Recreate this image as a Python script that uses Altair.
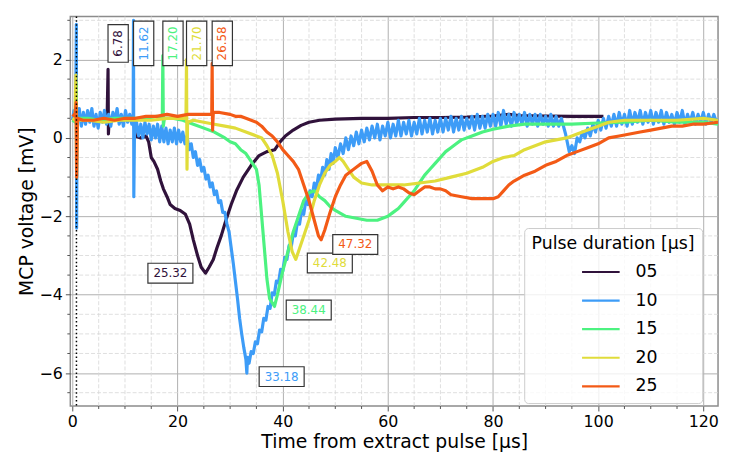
import altair as alt
import pandas as pd

series = ["05", "10", "15", "20", "25"]
colors = ["#30123b", "#3d9cf7", "#4cf280", "#e0dc3a", "#f35a16"]

# (time [us], voltage [mV]) pairs
pts05 = [(0.0, 0.5), (0.5, 0.45), (0.8, 0.55), (1.5, 0.45), (3, 0.5), (5, 0.45), (6.6, 0.5), (6.78, 1.75),
         (6.85, 0.1), (7.0, 0.5), (9, 0.45), (11, 0.5), (11.6, 0.45), (12.0, 0.05), (13, 0.0), (14, 0.05),
         (14.5, -0.1), (15.0, -0.5), (15.5, -0.6), (16.2, -0.8), (16.8, -1.1), (17.3, -1.3), (18.0, -1.5),
         (18.6, -1.7), (19.5, -1.8), (20.5, -1.85), (21.5, -1.95), (22.3, -2.2), (23.0, -2.6),
         (23.8, -3.0), (24.5, -3.3), (25.32, -3.45), (26.0, -3.3), (26.8, -3.1), (27.5, -2.8),
         (28.3, -2.5), (29.2, -2.1), (30.2, -1.7), (31.2, -1.35), (32.5, -1.0), (34, -0.7), (35.5, -0.45),
         (37, -0.35), (38.5, -0.3), (39.5, -0.1), (40.5, 0.05), (42, 0.2), (43.5, 0.32), (45, 0.4),
         (47, 0.45), (50, 0.48), (55, 0.5), (60, 0.5), (65, 0.52), (70, 0.52), (75, 0.53), (80, 0.56),
         (83, 0.6), (85, 0.57), (90, 0.56), (95, 0.55), (101, 0.55)]

pts10 = [(0.0, 0.45), (0.3, 0.7), (0.6, 0.4), (0.75, 2.9), (0.8, -2.3), (0.9, 0.5), (1.3, 0.75),
         (1.7, 0.3), (2.1, 0.65), (2.5, 0.35), (2.9, 0.7), (3.3, 0.4), (3.7, 0.75), (4.1, 0.3), (4.5, 0.6),
         (4.9, 0.25), (5.3, 0.65), (5.7, 0.4), (6.1, 0.7), (6.5, 0.35), (6.9, 0.6), (7.3, 0.3), (7.7, 0.65),
         (8.1, 0.45), (8.5, 0.75), (8.9, 0.35), (9.3, 0.6), (9.7, 0.3), (10.1, 0.7), (10.5, 0.4),
         (10.9, 0.6), (11.3, 0.35), (11.55, 0.55), (11.62, 3.0), (11.68, -1.5), (11.8, 0.1), (12.2, 0.4),
         (12.6, 0.05), (13.0, 0.35), (13.4, 0.0), (13.8, 0.4), (14.2, 0.1), (14.6, 0.35), (15.0, -0.05),
         (15.4, 0.3), (15.8, 0.0), (16.2, 0.35), (16.6, -0.1), (17.0, 0.3), (17.4, -0.1), (17.8, 0.25),
         (18.2, -0.15), (18.6, 0.2), (19.0, -0.1), (19.4, 0.25), (19.8, -0.15), (20.2, 0.2), (20.6, -0.1),
         (21.0, 0.15), (21.4, -0.15), (21.8, 0.05), (22.2, -0.3), (22.6, -0.15), (23.0, -0.5),
         (23.4, -0.35), (23.8, -0.7), (24.2, -0.55), (24.6, -0.85), (25.0, -0.75), (25.4, -1.05),
         (25.8, -0.95), (26.2, -1.25), (26.6, -1.15), (27.0, -1.45), (27.4, -1.35), (27.8, -1.65),
         (28.2, -1.6), (28.6, -1.9), (29.0, -1.9), (29.4, -2.2), (29.8, -2.4), (30.2, -2.8), (30.6, -3.2),
         (31.0, -3.65), (31.4, -4.1), (31.8, -4.6), (32.2, -5.0), (32.6, -5.35), (33.0, -5.65),
         (33.18, -6.0), (33.3, -5.6), (33.6, -5.75), (34.0, -5.45), (34.4, -5.5), (34.8, -5.2),
         (35.2, -5.25), (35.6, -4.9), (36.0, -4.95), (36.4, -4.6), (36.8, -4.65), (37.2, -4.3),
         (37.6, -4.35), (38.0, -3.95), (38.4, -4.0), (38.8, -3.65), (39.2, -3.7), (39.6, -3.35),
         (40.0, -3.4), (40.4, -3.05), (40.8, -3.1), (41.2, -2.75), (41.6, -2.8), (42.0, -2.45),
         (42.4, -2.5), (42.8, -2.15), (43.2, -2.2), (43.6, -1.85), (44.0, -1.95), (44.4, -1.6),
         (44.8, -1.7), (45.2, -1.35), (45.6, -1.5), (46.0, -1.15), (46.4, -1.3), (46.8, -0.95),
         (47.2, -1.1), (47.6, -0.75), (48.0, -0.95), (48.4, -0.55), (48.8, -0.8), (49.2, -0.4),
         (49.6, -0.65), (50.0, -0.25), (50.5, -0.5), (51.0, -0.15), (51.5, -0.4), (52.0, 0.0),
         (52.5, -0.3), (53.0, 0.05), (53.5, -0.2), (54.0, 0.15), (54.5, -0.15), (55.0, 0.2), (55.5, -0.1),
         (56.0, 0.25), (56.5, -0.05), (57.0, 0.3), (57.5, 0.0), (58.0, 0.35), (58.5, -0.05), (59.0, 0.3),
         (59.5, 0.05), (60.0, 0.4), (60.5, 0.0), (61.0, 0.35), (61.5, 0.05), (62.0, 0.45), (62.5, 0.05),
         (63.0, 0.4), (63.5, 0.1), (64.0, 0.45), (64.5, 0.05), (65.0, 0.4), (65.5, 0.1), (66.0, 0.5),
         (66.5, 0.1), (67.0, 0.45), (67.5, 0.15), (68.0, 0.5), (68.5, 0.1), (69.0, 0.45), (69.5, 0.15),
         (70.0, 0.5), (70.5, 0.15), (71.0, 0.5), (71.5, 0.2), (72.0, 0.55), (72.5, 0.15), (73.0, 0.5),
         (73.5, 0.2), (74.0, 0.55), (74.5, 0.2), (75.0, 0.5), (75.5, 0.25), (76.0, 0.55), (76.5, 0.2),
         (77.0, 0.6), (77.5, 0.25), (78.0, 0.55), (78.5, 0.25), (79.0, 0.6), (79.5, 0.3), (80.0, 0.6),
         (80.5, 0.3), (81.0, 0.65), (81.5, 0.3), (82.0, 0.7), (82.5, 0.35), (83.0, 0.6), (83.5, 0.3),
         (84.0, 0.65), (84.5, 0.35), (85.0, 0.6), (85.5, 0.35), (86.0, 0.65), (86.5, 0.3), (87.0, 0.6),
         (87.5, 0.35), (88.0, 0.6), (88.5, 0.3), (89.0, 0.6), (89.5, 0.35), (90.0, 0.55), (90.5, 0.3),
         (91.0, 0.6), (91.5, 0.3), (92.0, 0.55), (92.5, 0.3), (93.0, 0.5), (93.8, 0.1), (94.5, -0.35),
         (95.0, -0.2), (95.5, -0.4), (96.0, 0.0), (96.5, -0.1), (97.0, 0.15), (97.5, 0.0), (98.0, 0.25),
         (98.5, 0.05), (99.0, 0.35), (99.5, 0.15), (100.0, 0.45), (100.5, 0.2), (101.0, 0.5), (101.5, 0.25),
         (102.0, 0.55), (102.5, 0.3), (103.0, 0.6), (103.5, 0.3), (104.0, 0.65), (104.5, 0.35),
         (105.0, 0.6), (105.5, 0.3), (106.0, 0.7), (106.5, 0.35), (107.0, 0.65), (107.5, 0.4), (108.0, 0.7),
         (108.5, 0.35), (109.0, 0.65), (109.5, 0.4), (110.0, 0.7), (110.5, 0.35), (111.0, 0.65),
         (111.5, 0.4), (112.0, 0.7), (112.5, 0.35), (113.0, 0.65), (113.5, 0.4), (114.0, 0.6),
         (114.5, 0.35), (115.0, 0.65), (115.5, 0.4), (116.0, 0.7), (116.5, 0.35), (117.0, 0.6),
         (117.5, 0.4), (118.0, 0.65), (118.5, 0.35), (119.0, 0.6), (119.5, 0.4), (120.0, 0.65),
         (120.5, 0.35), (121.0, 0.6), (121.5, 0.4), (122.0, 0.6), (122.5, 0.4), (122.8, 0.5)]

pts15 = [(0.0, 0.45), (0.6, 0.4), (0.7, 1.4), (0.8, 0.3), (1.0, 0.5), (3, 0.5), (5, 0.45), (8, 0.5),
         (11, 0.5), (14, 0.5), (16, 0.55), (17.1, 0.5), (17.2, 2.1), (17.3, 0.3), (17.5, 0.5), (19, 0.5),
         (21, 0.45), (23, 0.35), (25, 0.25), (27, 0.15), (29, 0.0), (30, -0.1), (31, -0.15), (32, -0.3),
         (33, -0.4), (34, -0.6), (35, -0.8), (35.5, -1.2), (36, -2.0), (36.5, -2.8), (37, -3.6),
         (37.5, -4.1), (38.44, -4.3), (39, -4.0), (40, -3.4), (41, -2.9), (42, -2.4), (43, -2.0),
         (44, -1.6), (45, -1.4), (46, -1.35), (47, -1.5), (48, -1.6), (49, -1.75), (50, -1.85), (52, -2.0),
         (54, -2.05), (56, -2.1), (58, -2.1), (59, -2.05), (60, -2.0), (61, -1.9), (62, -1.8), (63, -1.65),
         (64, -1.5), (65, -1.35), (66, -1.15), (67, -0.95), (68, -0.8), (69, -0.65), (70, -0.5),
         (71, -0.35), (72, -0.25), (73, -0.15), (74, -0.05), (76, 0.05), (78, 0.15), (80, 0.22),
         (83, 0.3), (86, 0.35), (90, 0.35), (95, 0.35), (100, 0.38), (105, 0.4), (110, 0.45), (115, 0.4),
         (120, 0.4), (122.8, 0.35)]

pts20 = [(0.0, 0.5), (0.5, 0.45), (0.65, 1.6), (0.8, -1.0), (0.95, 0.45), (3, 0.45), (6, 0.4), (9, 0.45),
         (12, 0.45), (15, 0.45), (18, 0.5), (21.6, 0.5), (21.7, 2.0), (21.8, -0.8), (21.9, 0.4), (23, 0.45),
         (25, 0.4), (27, 0.35), (29, 0.3), (31, 0.25), (33, 0.15), (35, 0.05), (36, 0.0), (37, -0.2),
         (38, -0.45), (39, -0.9), (40, -1.6), (41, -2.4), (41.8, -2.9), (42.48, -3.1), (43, -2.9),
         (44, -2.5), (45, -2.1), (46, -1.6), (47, -1.2), (48, -0.9), (49, -0.7), (50, -0.6), (50.8, -0.5),
         (51.5, -0.6), (52.5, -0.8), (53.5, -1.0), (55, -1.15), (57, -1.2), (60, -1.2), (63, -1.2),
         (66, -1.15), (69, -1.1), (72, -1.0), (75, -0.9), (78, -0.75), (80, -0.6), (82, -0.5), (84, -0.45),
         (86, -0.3), (88, -0.2), (90, -0.1), (92, -0.05), (94, 0.0), (96, 0.1), (98, 0.2), (100, 0.3),
         (102, 0.4), (105, 0.45), (110, 0.45), (115, 0.45), (120, 0.5), (122.8, 0.45)]

pts25 = [(0.0, 0.6), (0.5, 0.55), (0.7, 0.9), (0.8, -1.0), (0.95, 0.5), (2, 0.45), (4, 0.45), (6, 0.5),
         (8, 0.45), (10, 0.5), (12, 0.5), (14, 0.55), (16, 0.55), (18, 0.6), (20, 0.55), (22, 0.6),
         (24, 0.6), (26.5, 0.6), (26.58, 1.9), (26.66, 0.2), (26.8, 0.65), (28, 0.65), (30, 0.6),
         (31, 0.55), (32, 0.55), (33, 0.5), (34, 0.45), (35, 0.4), (36, 0.3), (37, 0.15), (38, 0.05),
         (39, -0.1), (40, -0.3), (41, -0.45), (42, -0.6), (43, -0.8), (44, -1.2), (45, -1.6), (46, -2.1),
         (46.8, -2.5), (47.32, -2.6), (48, -2.35), (49, -1.9), (50, -1.5), (51, -1.2), (52, -0.95),
         (53, -0.85), (54, -0.75), (55, -0.65), (56, -0.6), (57, -0.85), (58, -1.2), (59, -1.35),
         (60, -1.25), (61, -1.3), (62, -1.25), (63, -1.3), (64, -1.4), (65, -1.45), (66, -1.35),
         (67, -1.25), (68, -1.25), (69, -1.3), (70, -1.3), (71, -1.35), (72, -1.45), (74, -1.5),
         (76, -1.55), (78, -1.55), (80, -1.55), (81, -1.5), (82, -1.35), (83, -1.2), (84, -1.1),
         (86, -0.95), (88, -0.85), (90, -0.7), (92, -0.6), (94, -0.45), (96, -0.35), (98, -0.25),
         (100, -0.15), (102, 0.0), (104, 0.05), (106, 0.1), (108, 0.15), (110, 0.2), (112, 0.25),
         (114, 0.3), (116, 0.3), (118, 0.35), (120, 0.35), (122.8, 0.4)]

trigger_x = [0.77]

x_major = [0, 20, 40, 60, 80, 100, 120]
x_minor = [5, 10, 15, 25, 30, 35, 45, 50, 55, 65, 70, 75, 85, 90, 95, 105, 110, 115]
y_major = [-6, -4, -2, 0, 2]
y_minor = [-6.5, -5.5, -5.0, -4.5, -3.5, -3.0, -2.5, -1.5, -1.0, -0.5, 0.5, 1.0, 1.5, 2.5, 3.0]

ann_text = ["6.78", "11.62", "17.20", "21.70", "26.58", "25.32", "33.18", "38.44", "42.48", "47.32"]
ann_series = ["05", "10", "15", "20", "25", "05", "10", "15", "20", "25"]
ann_x = [8.70, 13.55, 19.13, 23.63, 28.51, 18.64, 39.8, 44.95, 48.96, 53.8]
ann_y = [2.41, 2.41, 2.41, 2.41, 2.41, -3.45, -6.09, -4.39, -3.19, -2.72]

frames = []
for s, pts in zip(series, [pts05, pts10, pts15, pts20, pts25]):
    frames.append(pd.DataFrame({"t": [p[0] for p in pts], "v": [p[1] for p in pts], "series": s}))
lines_df = pd.concat(frames, ignore_index=True)

ann_df = pd.DataFrame({"text": ann_text, "series": ann_series, "x": ann_x, "y": ann_y})
ann_df["vertical"] = [True] * 5 + [False] * 5
box_h = "M-1,-0.44H1V0.44H-1Z"
box_v5 = "M-0.45,-0.99H0.45V0.99H-0.45Z"
box_v4 = "M-0.45,-0.835H0.45V0.835H-0.45Z"
ann_df["shape"] = [
    (box_v5 if len(tx) == 5 else box_v4) if vert else box_h
    for tx, vert in zip(ann_df["text"], ann_df["vertical"])
]
trig_df = pd.DataFrame({"x": trigger_x})
xminor_df = pd.DataFrame({"x": x_minor})
yminor_df = pd.DataFrame({"y": y_minor})

FONT = "DejaVu Sans"
xscale = alt.Scale(domain=[-0.4, 122.8], nice=False, zero=False)
yscale = alt.Scale(domain=[-6.84, 3.1], nice=False, zero=False)
cscale = alt.Scale(domain=series, range=colors)


def axis(title, values):
    return alt.Axis(
        title=title,
        values=values,
        format="d",
        labelOverlap=False,
        labelFlush=False,
        grid=True,
        gridColor="#b0b0b0",
        gridWidth=1.0,
        tickSize=5,
        tickColor="#555555",
        tickWidth=1.0,
        domain=False,
        labelFont=FONT,
        labelFontSize=16,
        labelColor="black",
        labelPadding=3,
        titleFont=FONT,
        titleFontSize=19,
        titleFontWeight="normal",
        titleColor="black",
        titlePadding=3,
    )


x_axis = axis("Time from extract pulse [µs]", x_major)
y_axis = axis("MCP voltage [mV]", y_major)

legend = alt.Legend(
    title="Pulse duration [µs]",
    orient="none",
    legendX=459,
    legendY=214,
    direction="vertical",
    fillColor="rgba(255,255,255,0.8)",
    strokeColor="#cccccc",
    cornerRadius=4,
    padding=7.5,
    titleFont=FONT,
    titleFontSize=17.5,
    titleFontWeight="normal",
    titleColor="black",
    titlePadding=8.5,
    labelFont=FONT,
    labelFontSize=17.5,
    labelColor="black",
    symbolType="M-2,0H2",
    symbolSize=361,
    symbolStrokeWidth=2.2,
    symbolOffset=59,
    labelOffset=24,
    rowPadding=8.9,
)

minor_grid_style = dict(color="#d6d6d6", strokeDash=[4, 2], strokeWidth=0.8)
xgrid = alt.Chart(xminor_df).mark_rule(**minor_grid_style).encode(x=alt.X("x:Q", scale=xscale, axis=x_axis))
ygrid = alt.Chart(yminor_df).mark_rule(**minor_grid_style).encode(y=alt.Y("y:Q", scale=yscale, axis=y_axis))
xmtick = alt.Chart(xminor_df).mark_rule(color="#555555", strokeWidth=1.0, clip=False).encode(
    x=alt.X("x:Q", scale=xscale, axis=x_axis), y=alt.value(394), y2=alt.value(397)
)
ymtick = alt.Chart(yminor_df).mark_rule(color="#555555", strokeWidth=1.0, clip=False).encode(
    y=alt.Y("y:Q", scale=yscale, axis=y_axis), x=alt.value(-3), x2=alt.value(0)
)

lines = alt.Chart(lines_df).mark_line(strokeWidth=3.2, clip=True, strokeJoin="round").encode(
    x=alt.X("t:Q", scale=xscale, axis=x_axis),
    y=alt.Y("v:Q", scale=yscale, axis=y_axis),
    color=alt.Color("series:N", scale=cscale, legend=legend),
)

trig = alt.Chart(trig_df).mark_rule(color="black", strokeDash=[1.5, 2.5], strokeWidth=1.5).encode(
    x=alt.X("x:Q", scale=xscale, axis=x_axis)
)

boxes = alt.Chart(ann_df).mark_point(
    filled=True, fill="white", stroke="#333333", strokeWidth=1.2, opacity=1, size=2070
).encode(
    x=alt.X("x:Q", scale=xscale, axis=x_axis),
    y=alt.Y("y:Q", scale=yscale, axis=y_axis),
    shape=alt.Shape("shape:N", scale=None),
)

txt_v = alt.Chart(ann_df).transform_filter("datum.vertical").mark_text(
    font=FONT, fontSize=12, angle=270, align="center", baseline="middle"
).encode(
    x=alt.X("x:Q", scale=xscale, axis=x_axis),
    y=alt.Y("y:Q", scale=yscale, axis=y_axis),
    text="text:N",
    color=alt.Color("series:N", scale=cscale, legend=None),
)

txt_h = alt.Chart(ann_df).transform_filter("!datum.vertical").mark_text(
    font=FONT, fontSize=12, align="center", baseline="middle"
).encode(
    x=alt.X("x:Q", scale=xscale, axis=x_axis),
    y=alt.Y("y:Q", scale=yscale, axis=y_axis),
    text="text:N",
    color=alt.Color("series:N", scale=cscale, legend=None),
)

chart = alt.layer(xgrid, ygrid, xmtick, ymtick, lines, trig, boxes, txt_v, txt_h).properties(
    width=655,
    height=394,
    autosize=alt.AutoSizeParams(type="none"),
    padding={"left": 63, "top": 6, "right": 3, "bottom": 44},
    background="white",
).configure_view(stroke="#8c8c8c", strokeWidth=1.5)

chart.save("out.html", embed_options={"renderer": "svg", "actions": False})
